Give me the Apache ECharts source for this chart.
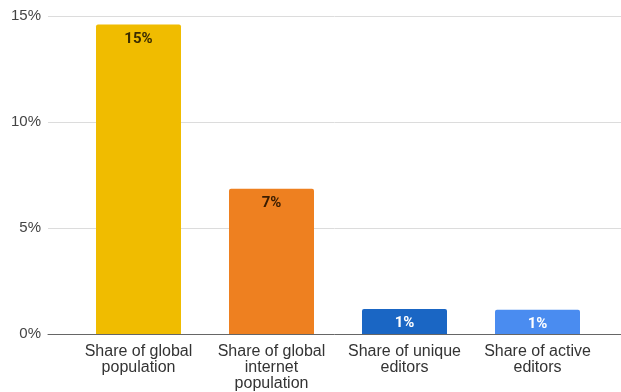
<!DOCTYPE html>
<html><head><meta charset="utf-8">
<script src="https://cdn.jsdelivr.net/npm/echarts@6/dist/echarts.min.js"></script>
<style>html,body{margin:0;padding:0;background:#fff}#c{width:621px;height:392px}</style>
</head><body><div id="c"></div>
<script>
var categories = ['Share of global\npopulation', 'Share of global\ninternet\npopulation', 'Share of unique\neditors', 'Share of active\neditors'];
var values = [14.6, 6.85, 1.18, 1.14];
var barColors = ['#F0BC00', '#EE8020', '#1A66C4', '#4A8CF0'];
var labelColors = ['#3a2c00', '#3a1c00', '#ffffff', '#ffffff'];
var yTicks = [0, 5, 10, 15];

var chart = echarts.init(document.getElementById('c'));
chart.setOption({
  animation: false,
  grid: [
    {left: 48, right: 0, top: 16, bottom: 58},
    {left: 72, right: 17, top: 16, bottom: 58}
  ],
  xAxis: [
    {gridIndex: 0, type: 'value', min: 0, max: 1, show: true,
     axisLine: {show: true, lineStyle: {color: '#666', width: 1}},
     axisTick: {show: false}, axisLabel: {show: false}, splitLine: {show: false}},
    {gridIndex: 1, type: 'category', data: categories,
     axisLine: {show: false}, axisTick: {show: false},
     axisLabel: {interval: 0, hideOverlap: false, color: '#333', fontFamily: 'Arial, Liberation Sans, sans-serif', fontSize: 16, lineHeight: 16, margin: 10}}
  ],
  yAxis: [
    {gridIndex: 0, type: 'value', min: yTicks[0], max: yTicks[yTicks.length - 1], interval: 5,
     axisLine: {show: false}, axisTick: {show: false},
     axisLabel: {formatter: '{value}%', color: '#444', fontFamily: 'Arial, Liberation Sans, sans-serif', fontSize: 15, margin: 7},
     splitLine: {lineStyle: {color: '#dcdcdc'}}},
    {gridIndex: 1, type: 'value', min: 0, max: 15, show: false}
  ],
  series: [{
    type: 'bar', xAxisIndex: 1, yAxisIndex: 1, barWidth: 85,
    data: values.map(function (v, i) {
      return {value: v, itemStyle: {color: barColors[i], borderRadius: [2, 2, 0, 0]},
              label: {color: labelColors[i]}};
    }),
    label: {show: true, position: 'insideTop', distance: 7,
      formatter: function (p) { return Math.round(p.value) + '%'; },
      fontFamily: 'Roboto, sans-serif', fontSize: 15, fontWeight: 'bold'}
  }]
});
</script></body></html>
